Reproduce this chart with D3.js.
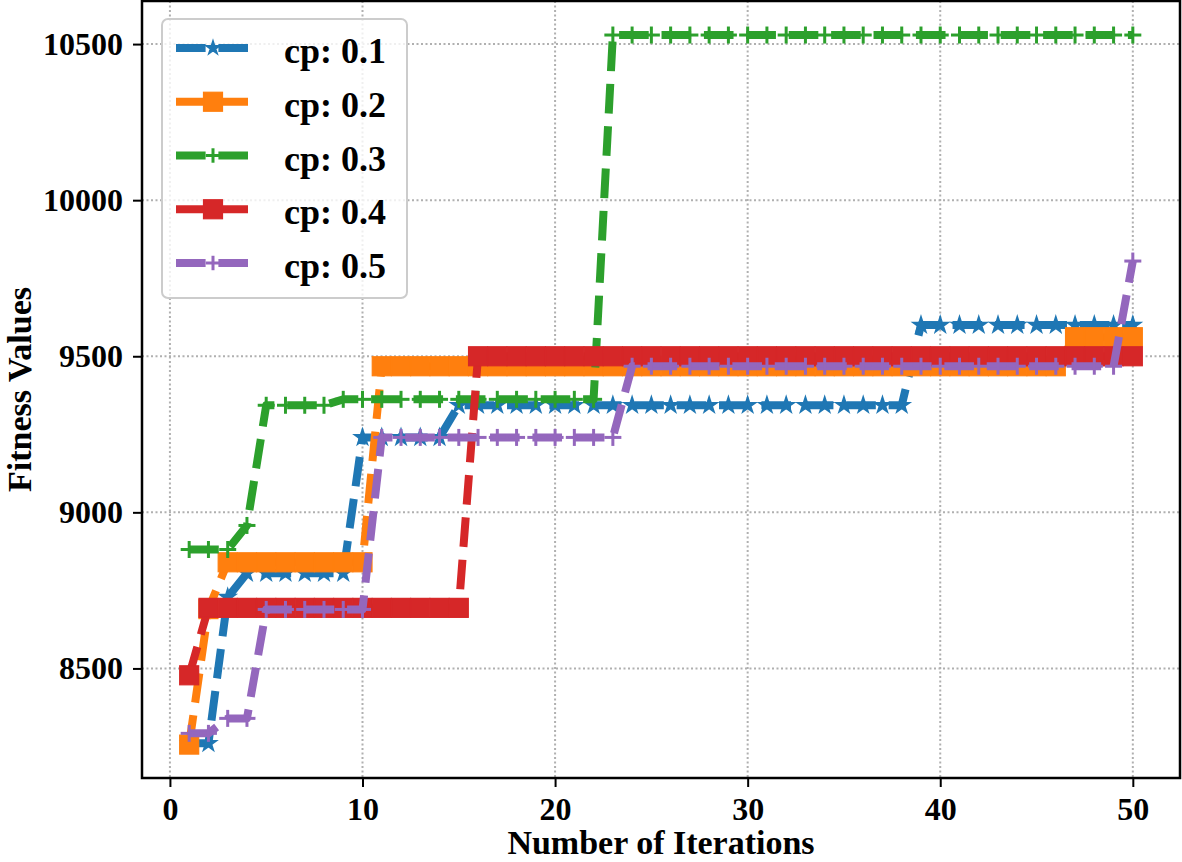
<!DOCTYPE html>
<html>
<head>
<meta charset="utf-8">
<script src="https://cdn.jsdelivr.net/npm/d3@7"></script>
<style>
  html, body { margin: 0; padding: 0; background: #fff; }
  svg { display: block; }
  text { font-family: "Liberation Serif", "Times New Roman", serif; font-weight: bold; fill: #000; }
</style>
</head>
<body>
<svg id="chart" width="1182" height="862"></svg>
<script>
// ---------- data ----------
const iterations = [1,2,3,4,5,6,7,8,9,10,11,12,13,14,15,16,17,18,19,20,21,22,23,24,25,26,27,28,29,30,31,32,33,34,35,36,37,38,39,40,41,42,43,44,45,46,47,48,49,50];

const cp01 = [8260,8260,8728,8805,8805,8805,8805,8805,8805,9240,
              9240,9240,9240,9240,9343,9343,9343,9343,9343,9343,
              9343,9343,9343,9343,9343,9343,9343,9343,9343,9343,
              9343,9343,9343,9343,9343,9343,9343,9343,9600,9600,
              9600,9600,9600,9600,9600,9600,9600,9600,9600,9600];
const cp02 = [8256,8690,8840,8840,8840,8840,8840,8840,8840,8840,
              9468,9468,9468,9468,9468,9468,9468,9468,9468,9468,
              9468,9468,9468,9468,9468,9468,9468,9468,9468,9468,
              9468,9468,9468,9468,9468,9468,9468,9468,9468,9468,
              9468,9468,9468,9468,9468,9468,9561,9561,9561,9561];
const cp03 = [8881,8881,8881,8958,9343,9343,9343,9343,9362,9362,
              9362,9362,9362,9362,9362,9362,9362,9362,9362,9362,
              9362,9362,10529,10529,10529,10529,10529,10529,10529,10529,
              10529,10529,10529,10529,10529,10529,10529,10529,10529,10529,
              10529,10529,10529,10529,10529,10529,10529,10529,10529,10529];
const cp04 = [8478,8694,8694,8694,8694,8694,8694,8694,8694,8694,
              8694,8694,8694,8694,8694,9500,9500,9500,9500,9500,
              9500,9500,9500,9500,9500,9500,9500,9500,9500,9500,
              9500,9500,9500,9500,9500,9500,9500,9500,9500,9500,
              9500,9500,9500,9500,9500,9500,9500,9500,9500,9500];
const cp05 = [8292,8292,8340,8340,8689,8689,8689,8689,8689,8689,
              9240,9240,9240,9240,9240,9240,9240,9240,9240,9240,
              9240,9240,9240,9468,9468,9468,9468,9468,9468,9468,
              9468,9468,9468,9468,9468,9468,9468,9468,9468,9468,
              9468,9468,9468,9468,9468,9468,9468,9468,9468,9805];

const seriesNames = ["cp: 0.1", "cp: 0.2", "cp: 0.3", "cp: 0.4", "cp: 0.5"];
const seriesValues = [cp01, cp02, cp03, cp04, cp05];
const seriesMarkers = ["star", "square", "plus", "square", "plus"];
const seriesColors = ["#1f77b4", "#ff7f0e", "#2ca02c", "#d62728", "#9467bd"];

const xTicks = [0, 10, 20, 30, 40, 50];
const yTicks = [8500, 9000, 9500, 10000, 10500];
const xTitle = "Number of Iterations";
const yTitle = "Fitness Values";

// ---------- layout ----------
const L = 142, R = 1180, T = 1, B = 778;
const svg = d3.select("#chart");

const x = d3.scaleLinear().domain([-1.45, 52.45]).range([L, R]);
const y = d3.scaleLinear().domain([8149, 10638]).range([B, T]);

// grid
const grid = svg.append("g");
grid.selectAll("line.gx").data(xTicks).join("line")
  .attr("x1", d => x(d)).attr("x2", d => x(d)).attr("y1", T).attr("y2", B)
  .attr("stroke", "#b0b0b0").attr("stroke-width", 2).attr("stroke-dasharray", "2,2.5");
grid.selectAll("line.gy").data(yTicks).join("line")
  .attr("y1", d => y(d)).attr("y2", d => y(d)).attr("x1", L).attr("x2", R)
  .attr("stroke", "#b0b0b0").attr("stroke-width", 2).attr("stroke-dasharray", "2,2.5");

// clip
svg.append("clipPath").attr("id", "clip").append("rect")
  .attr("x", L).attr("y", T).attr("width", R - L).attr("height", B - T);

function starPath(r) {
  const ri = r * 0.381966;
  const pts = [];
  for (let i = 0; i < 10; i++) {
    const a = -Math.PI / 2 + i * Math.PI / 5;
    const rr = i % 2 === 0 ? r : ri;
    pts.push([rr * Math.cos(a), rr * Math.sin(a)]);
  }
  return "M" + pts.map(p => p[0].toFixed(2) + "," + p[1].toFixed(2)).join("L") + "Z";
}

function drawMarker(g, type, color, cx, cy, scale) {
  scale = scale || 1;
  if (type === "star") {
    g.append("path").attr("d", starPath(8.5 * scale))
      .attr("transform", `translate(${cx},${cy})`)
      .attr("fill", color).attr("stroke", color).attr("stroke-width", 1.5).attr("stroke-linejoin", "miter");
  } else if (type === "square") {
    const s = 19 * scale;
    g.append("rect").attr("x", cx - s / 2).attr("y", cy - s / 2).attr("width", s).attr("height", s)
      .attr("fill", color).attr("stroke", color).attr("stroke-width", 1.2);
  } else if (type === "plus") {
    const h = 8.5 * scale;
    g.append("line").attr("x1", cx - h).attr("x2", cx + h).attr("y1", cy).attr("y2", cy)
      .attr("stroke", color).attr("stroke-width", 3);
    g.append("line").attr("x1", cx).attr("x2", cx).attr("y1", cy - h).attr("y2", cy + h)
      .attr("stroke", color).attr("stroke-width", 3);
  }
}

const line = d3.line().x((d, i) => x(iterations[i])).y(d => y(d));
const plot = svg.append("g").attr("clip-path", "url(#clip)");
seriesValues.forEach((vals, si) => {
  const g = plot.append("g");
  g.append("path").attr("d", line(vals))
    .attr("fill", "none").attr("stroke", seriesColors[si]).attr("stroke-width", 8)
    .attr("stroke-dasharray", "29.6,12.8").attr("stroke-linejoin", "round");
  vals.forEach((v, i) => drawMarker(g, seriesMarkers[si], seriesColors[si], x(iterations[i]), y(v)));
});

// axes
const xAxis = d3.axisBottom(x).tickValues(xTicks).tickSize(9).tickPadding(10).tickFormat(d3.format("d"));
const yAxis = d3.axisLeft(y).tickValues(yTicks).tickSize(9).tickPadding(10).tickFormat(d3.format("d"));
const gx = svg.append("g").attr("transform", `translate(0,${B})`).call(xAxis);
const gy = svg.append("g").attr("transform", `translate(${L},0)`).call(yAxis);
[gx, gy].forEach(g => {
  g.select(".domain").remove();
  g.selectAll(".tick line").attr("stroke", "#000").attr("stroke-width", 2);
  g.selectAll(".tick text").attr("font-size", 32).attr("font-family", "Liberation Serif, serif").attr("font-weight", "bold").attr("fill", "#000");
});

// spines
svg.append("rect").attr("x", L).attr("y", T).attr("width", R - L).attr("height", B - T)
  .attr("fill", "none").attr("stroke", "#000").attr("stroke-width", 2.5);

// axis titles
svg.append("text").attr("x", (L + R) / 2).attr("y", 854).attr("text-anchor", "middle")
  .attr("font-size", 34).text(xTitle);
svg.append("text").attr("transform", `translate(31,${(T + B) / 2}) rotate(-90)`)
  .attr("text-anchor", "middle").attr("font-size", 34).text(yTitle);

// legend
const lg = svg.append("g");
lg.append("rect").attr("x", 162).attr("y", 19).attr("width", 245).attr("height", 279).attr("rx", 6)
  .attr("fill", "rgba(255,255,255,0.8)").attr("stroke", "#cccccc").attr("stroke-width", 2);
seriesNames.forEach((name, i) => {
  const cy = 48 + i * 53.75;
  lg.append("line").attr("x1", 176).attr("x2", 250).attr("y1", cy).attr("y2", cy)
    .attr("stroke", seriesColors[i]).attr("stroke-width", 8).attr("stroke-dasharray", "29.6,12.8");
  drawMarker(lg, seriesMarkers[i], seriesColors[i], 213, cy, seriesMarkers[i] === "square" ? 1 : 0.85);
  lg.append("text").attr("x", 284).attr("y", cy + 15).attr("font-size", 36).text(name);
});
</script>
</body>
</html>
